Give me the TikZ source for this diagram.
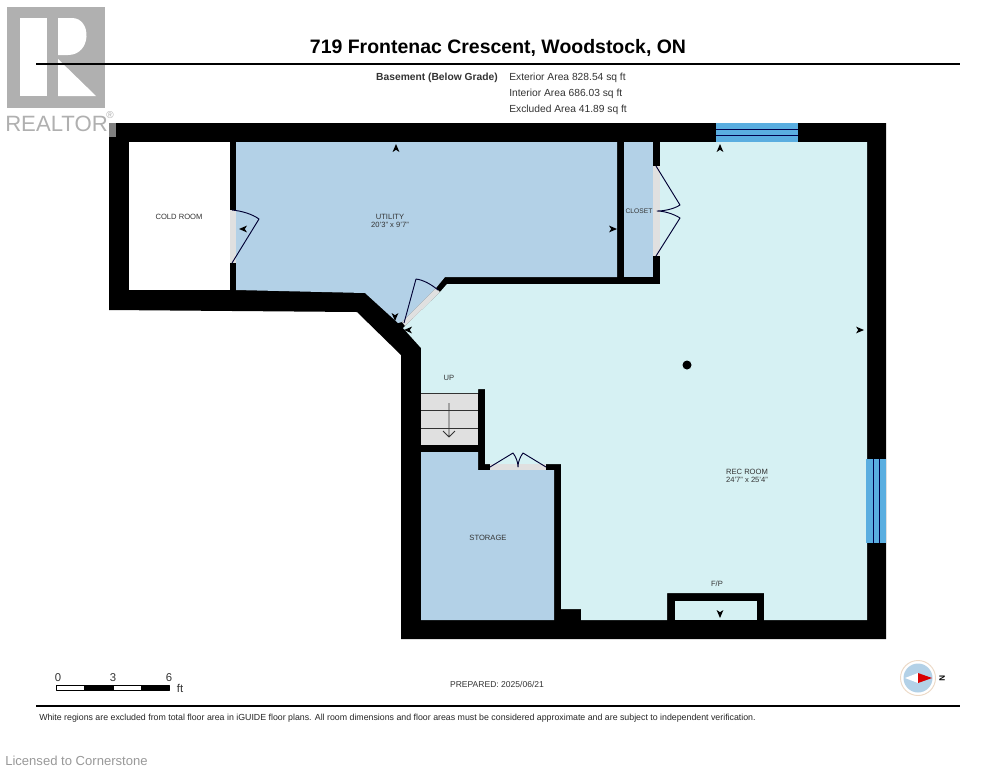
\documentclass[tikz,border=0pt]{standalone}
\usepackage{fontspec}
\setmainfont{Liberation Sans}
\definecolor{utilblue}{HTML}{B3D1E7}
\definecolor{recblue}{HTML}{D6F1F3}
\definecolor{winblue}{HTML}{5AAEE0}
\definecolor{sillgray}{HTML}{E0E0E0}
\definecolor{logogray}{HTML}{B0B0B0}
\definecolor{inkgray}{HTML}{333333}
\begin{document}
\begin{tikzpicture}[x=0.75pt,y=-0.75pt, line join=round, line cap=butt, >=stealth,
	roomlabel/.style={inner sep=0pt, text=inkgray, align=center, font=\fontsize{5.7}{6}\selectfont},
	arealabel/.style={inner sep=0pt, anchor=west, text=inkgray, font=\fontsize{7.7}{9}\selectfont},
	doorleaf/.style={draw=black!80!blue, line width=0.7pt},
	sill/.style={fill=sillgray}]
	\useasboundingbox (0,0) rectangle (995,768);
	\fill[white] (0,0) rectangle (995,768);
	% logo
	\fill[logogray] (7,7) rectangle (105,108);
	\fill[white] (20,18) rectangle (47,96);
	\fill[white] (58,18) -- (72,18) .. controls (92,18) and (92,55) .. (68,55) -- (58,55) -- cycle;
	\fill[white] (58,59) -- (96,96) -- (58,96) -- cycle;
	\node[inner sep=0pt, text=logogray, anchor=west, font=\fontsize{16.6}{18}\selectfont] (realtor) at (5,124) {REALTOR};
	\node[inner sep=0pt, text=logogray, font=\fontsize{7.5}{8}\selectfont] (regmark) at (110,115) {\textregistered};
	% walls
	\fill (109,123) -- (886,123) -- (886,639) -- (401,639) -- (401,355) -- (357,312) -- (109,310) -- cycle;
	\fill[gray] (109,123) rectangle (116,137);
	% rooms
	\fill[white] (129,142) rectangle (230,290);
	\fill[utilblue] (236,142) -- (617,142) -- (617,277) -- (445,277) -- (436,288) -- (402,322) -- (398,323) -- (365,293) -- (236,290) -- cycle;
	\fill[utilblue] (624,142) rectangle (653,277);
	\fill[utilblue] (421,452) -- (478,452) -- (478,470) -- (554,470) -- (554,620) -- (421,620) -- cycle;
	\fill[recblue] (660,142) -- (867,142) -- (867,620) -- (764,620) -- (764,593) -- (667,593) -- (667,620) -- (581,620) -- (581,609) -- (561,609) -- (561,464) -- (485,464) -- (485,389) -- (478,389) -- (478,393) -- (421,393) -- (421,348) -- (403,328) -- (405,326) -- (440,292) -- (447,284) -- (660,284) -- cycle;
	\fill[recblue] (675,601) rectangle (757,620);
	% stairs
	\fill[sillgray] (421,393) rectangle (478,445);
	\draw[inkgray, line width=0.7pt] (421,393) -- (478,393) (421,410.5) -- (478,410.5) (421,428) -- (478,428);
	\draw[inkgray, line width=0.7pt] (449,403) -- (449,437) (443,431) -- (449,437) -- (455,431);
	% windows
	\fill[winblue] (716,123) rectangle (798,142);
	\fill[winblue] (866,459) rectangle (886,543);
	\draw[black!70!blue, line width=0.7pt] (716,129.5) -- (798,129.5) (716,135.5) -- (798,135.5) (873,459) -- (873,543) (879,459) -- (879,543);
	% door sills
	\fill[sill] (230,210) rectangle (236,263);
	\fill[sill] (653,166) rectangle (660,256);
	\fill[sill] (490,464) rectangle (546,470);
	\fill[sill] (436,288) -- (440,292) -- (405,326) -- (402,322) -- cycle;
	% door leaves
	\draw[doorleaf] (232,263) -- (259,219) .. controls (252,214) and (242,211) .. (232,210);
	\draw[doorleaf] (404,323) -- (416,279) .. controls (424,280) and (432,285) .. (438,290);
	\draw[doorleaf] (656,166) -- (680,205) .. controls (674,209) and (664,211) .. (657,211) .. controls (664,211) and (674,214) .. (680,218) -- (656,256);
	\draw[doorleaf] (490,467) -- (513,453) .. controls (516,457) and (518,462) .. (518,467) .. controls (518,462) and (520,457) .. (523,453) -- (546,467);
	% markers
	\foreach \x/\y/\a in {396/148/90,720/148/90,613/229/0,860/330/0,395/317/-90,408/330/180,720/614/-90,243/229/180}
	\fill[shift={(\x,\y)},rotate=\a] (4,0) -- (-4,-3.4) -- (-1.8,0) -- (-4,3.4) -- cycle;
	\fill (687,365) circle (4.5);
	% room labels
	\node[roomlabel] (coldroom) at (179,217) {COLD ROOM};
	\node[roomlabel] (utility) at (390,221) {UTILITY\\20'3" x 9'7"};
	\node[roomlabel, font=\fontsize{5}{6}\selectfont] (closet) at (639,211) {CLOSET};
	\node[roomlabel] (up) at (449,378) {UP};
	\node[roomlabel] (storage) at (488,538) {STORAGE};
	\node[roomlabel] (recroom) at (747,476) {REC ROOM\\24'7" x 25'4"};
	\node[roomlabel] (fp) at (717,584) {F/P};
	% header
	\node[inner sep=0pt, font=\fontsize{14.6}{16}\bfseries\selectfont] (title) at (498,48) {719 Frontenac Crescent, Woodstock, ON};
	\draw[line width=1.1pt] (36,64) -- (960,64);
	\node[inner sep=0pt, anchor=east, text=inkgray, font=\fontsize{7.7}{9}\bfseries\selectfont] (level) at (498,78) {Basement (Below Grade)};
	\node[arealabel] (exterior) at (509,78) {Exterior Area 828.54 sq ft};
	\node[arealabel] (interior) at (509,94) {Interior Area 686.03 sq ft};
	\node[arealabel] (excluded) at (509,110) {Excluded Area 41.89 sq ft};
	% scale bar
	\draw[line width=0.4pt, fill=white] (56,685) rectangle (84,690);
	\draw[line width=0.4pt, fill=black] (84,685) rectangle (113,690);
	\draw[line width=0.4pt, fill=white] (113,685) rectangle (141,690);
	\draw[line width=0.4pt, fill=black] (141,685) rectangle (169,690);
	\foreach \x/\t in {58/0,113/3,169/6}
	\node[inner sep=0pt, text=inkgray, font=\fontsize{8.5}{9}\selectfont] (scale\t) at (\x,678) {\t};
	\node[inner sep=0pt, text=inkgray, font=\fontsize{8.5}{9}\selectfont] (scaleft) at (180,688) {ft};
	\node[inner sep=0pt, text=inkgray, font=\fontsize{6.4}{9}\selectfont] (prepared) at (497,684) {PREPARED: 2025/06/21};
	% compass
	\draw[draw=brown!30, fill=white, line width=0.7pt] (918,678) circle (17.5);
	\fill[utilblue] (918,678) circle (14.5);
	\fill[white] (905,678) -- (918,673) -- (918,683) -- cycle;
	\fill[red!85!black] (932,678) -- (918,673) -- (918,683) -- cycle;
	\node[inner sep=0pt, rotate=-90, font=\fontsize{6}{6}\bfseries\selectfont] (north) at (942,678) {N};
	% footer
	\draw[line width=1.1pt] (36,706) -- (960,706);
	\node[inner sep=0pt, anchor=west, text=black!85, font=\fontsize{6.6}{8}\selectfont] (note) at (39,718) {White regions are excluded from total floor area in iGUIDE floor plans. All room dimensions and floor areas must be considered approximate and are subject to independent verification.};
	\node[inner sep=0pt, anchor=west, text=gray!80, font=\fontsize{9.8}{11}\selectfont] (licence) at (5,761) {Licensed to Cornerstone};
\end{tikzpicture}
\end{document}
